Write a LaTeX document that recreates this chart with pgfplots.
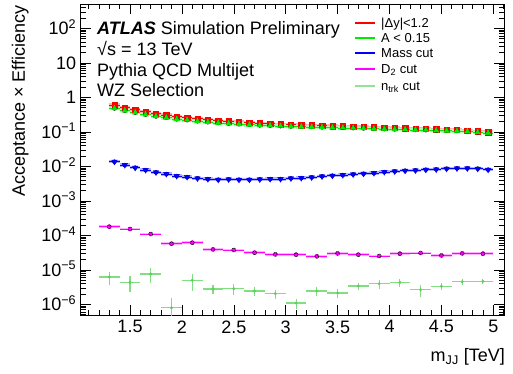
\documentclass[border=0pt]{standalone}
\usepackage{fontspec}
\setmainfont{Liberation Sans}
\usepackage{pgfplots}
\usepackage{pgfplotstable}
\pgfplotsset{compat=1.18}
\usetikzlibrary{plotmarks}

\definecolor{rootred}{RGB}{255,0,0}
\definecolor{rootgreen}{RGB}{0,235,0}
\definecolor{rootblue}{RGB}{0,0,255}
\definecolor{rootmagenta}{RGB}{255,0,255}
\definecolor{rootntrk}{RGB}{90,210,90}
\definecolor{rootntrklight}{RGB}{150,225,150}

\pgfplotstableread{
x y
1.35 0.598
1.45 0.506
1.55 0.443
1.65 0.387
1.75 0.339
1.85 0.307
1.95 0.277
2.05 0.259
2.15 0.240
2.25 0.224
2.35 0.210
2.45 0.201
2.55 0.192
2.65 0.184
2.75 0.176
2.85 0.172
2.95 0.165
3.05 0.161
3.15 0.157
3.25 0.154
3.35 0.150
3.45 0.147
3.55 0.144
3.65 0.141
3.75 0.138
3.85 0.135
3.95 0.131
4.05 0.129
4.15 0.126
4.25 0.123
4.35 0.121
4.45 0.118
4.55 0.115
4.65 0.113
4.75 0.109
4.85 0.103
4.95 0.0987
}\dytab

\pgfplotstableread{
x y
1.35 0.478
1.45 0.410
1.55 0.361
1.65 0.317
1.75 0.280
1.85 0.255
1.95 0.231
2.05 0.218
2.15 0.203
2.25 0.190
2.35 0.180
2.45 0.173
2.55 0.166
2.65 0.160
2.75 0.154
2.85 0.151
2.95 0.146
3.05 0.143
3.15 0.140
3.25 0.138
3.35 0.135
3.45 0.132
3.55 0.130
3.65 0.128
3.75 0.126
3.85 0.123
3.95 0.120
4.05 0.118
4.15 0.116
4.25 0.113
4.35 0.112
4.45 0.109
4.55 0.107
4.65 0.105
4.75 0.102
4.85 0.0963
4.95 0.0923
}\atab

\pgfplotstableread{
x y
1.35 0.01361
1.45 0.01091
1.55 0.00913
1.65 0.00781
1.75 0.00669
1.85 0.00598
1.95 0.00524
2.05 0.00490
2.15 0.00448
2.25 0.00428
2.35 0.00410
2.45 0.00419
2.55 0.00410
2.65 0.00410
2.75 0.00419
2.85 0.00428
2.95 0.00428
3.05 0.00448
3.15 0.00458
3.25 0.00479
3.35 0.00512
3.45 0.00535
3.55 0.00560
3.65 0.00585
3.75 0.00611
3.85 0.00639
3.95 0.00684
4.05 0.00715
4.15 0.00747
4.25 0.00764
4.35 0.00798
4.45 0.00816
4.55 0.00854
4.65 0.00873
4.75 0.00873
4.85 0.00854
4.95 0.00798
}\masstab

\pgfplotstableread{
x y
1.3 1.78e-4
1.5 1.52e-4
1.7 1.09e-4
1.9 5.72e-5
2.1 6.11e-5
2.3 3.92e-5
2.5 3.75e-5
2.7 3.14e-5
2.9 2.81e-5
3.1 2.75e-5
3.3 2.46e-5
3.5 3.00e-5
3.7 2.75e-5
3.9 2.51e-5
4.1 2.94e-5
4.3 3.07e-5
4.5 2.62e-5
4.7 3.00e-5
4.9 2.94e-5
}\dtwotab

\pgfplotstableread{
x y rp rm
1.3 6.18e-6 0.40 0.40
1.5 4.34e-6 0.48 0.48
1.7 7.55e-6 0.45 0.45
1.9 7.96e-7 0.95 0.95
2.1 4.97e-6 0.50 0.50
2.3 2.78e-6 0.27 0.27
2.5 2.83e-6 0.33 0.33
2.7 2.43e-6 0.30 0.30
2.9 2.03e-6 0.30 0.30
3.1 1.09e-6 0.35 0.35
3.3 2.43e-6 0.28 0.28
3.5 2.13e-6 0.28 0.28
3.7 3.39e-6 0.25 0.25
3.9 3.95e-6 0.30 0.30
4.1 4.34e-6 0.25 0.25
4.3 2.65e-6 0.40 0.40
4.5 3.33e-6 0.22 0.22
4.7 4.52e-6 0.17 0.17
4.9 4.65e-6 0.15 0.15
}\ntrktab

\begin{document}
\begin{tikzpicture}
\useasboundingbox (0,0) rectangle (513pt,374pt);
\begin{axis}[
  at={(80.7pt,59pt)}, anchor=south west,
  scale only axis, width=423.3pt, height=310.5pt,
  xmin=1.025, xmax=5.103,
  ymode=log, ymin=4.9e-7, ymax=490,
  xtick={1.5,2,2.5,3,3.5,4,4.5,5},
  xticklabels={1.5,2,2.5,3,3.5,4,4.5,5},
  minor xtick={1.1,1.2,1.3,1.4,1.6,1.7,1.8,1.9,2.1,2.2,2.3,2.4,2.6,2.7,2.8,2.9,3.1,3.2,3.3,3.4,3.6,3.7,3.8,3.9,4.1,4.2,4.3,4.4,4.6,4.7,4.8,4.9,5.1},
  ytick={1e-6,1e-5,1e-4,1e-3,1e-2,1e-1,1,10,100},
  yticklabels={10\textsuperscript{−6},10\textsuperscript{−5},10\textsuperscript{−4},10\textsuperscript{−3},10\textsuperscript{−2},10\textsuperscript{−1},1,10,10\textsuperscript{2}},
  minor ytick={5e-7,6e-7,7e-7,8e-7,9e-7,
    2e-6,3e-6,4e-6,5e-6,6e-6,7e-6,8e-6,9e-6,
    2e-5,3e-5,4e-5,5e-5,6e-5,7e-5,8e-5,9e-5,
    2e-4,3e-4,4e-4,5e-4,6e-4,7e-4,8e-4,9e-4,
    2e-3,3e-3,4e-3,5e-3,6e-3,7e-3,8e-3,9e-3,
    0.02,0.03,0.04,0.05,0.06,0.07,0.08,0.09,
    0.2,0.3,0.4,0.5,0.6,0.7,0.8,0.9,
    2,3,4,5,6,7,8,9,
    20,30,40,50,60,70,80,90,
    200,300,400},
  xtick pos=both, ytick pos=both,
  xticklabel pos=lower, yticklabel pos=left,
  tick align=inside,
  major tick length=10pt, minor tick length=5pt,
  tick style={black, line width=0.6pt},
  axis line style={line width=0.7pt},
  ticklabel style={font=\fontsize{18}{21}\selectfont},
  yticklabel style={anchor=base east, yshift=-6.4pt, xshift=-1pt},
  xticklabel style={yshift=-2pt},
  xlabel={m\textsubscript{JJ} [TeV]},
  xlabel style={at={(axis description cs:1.0024,-0.150)}, anchor=base east, font=\fontsize{18}{21}\selectfont, inner sep=0pt},
  ylabel={Acceptance × Efficiency},
  ylabel style={at={(axis description cs:-0.1316,0.998)}, anchor=base east, font=\fontsize{18}{21}\selectfont, inner sep=0pt},
  clip=true,
]
% |dy| < 1.2
\addplot[only marks, mark=none,
  error bars/.cd, x dir=both, x fixed=0.05, error mark=none,
  error bar style={line width=3.5pt, draw=rootred!30}] table {\dytab};
\addplot[only marks, mark=square*, mark size=2.7pt, color=rootred,
  error bars/.cd, x dir=both, x fixed=0.05, error mark=none,
  error bar style={line width=0.7pt, draw=rootred}] table {\dytab};
% A < 0.15
\addplot[only marks, mark=none,
  error bars/.cd, x dir=both, x fixed=0.05, error mark=none,
  error bar style={line width=3.5pt, draw=rootgreen!30}] table {\atab};
\addplot[only marks, mark=triangle*, mark size=3.2pt, color=rootgreen,
  error bars/.cd, x dir=both, x fixed=0.05, error mark=none,
  error bar style={line width=0.7pt, draw=rootgreen}] table {\atab};
% Mass cut
\addplot[only marks, mark=none,
  error bars/.cd, x dir=both, x fixed=0.05, error mark=none,
  error bar style={line width=3.5pt, draw=rootblue!30}] table {\masstab};
\addplot[only marks, mark=triangle*, mark size=3.2pt, mark options={rotate=180}, color=rootblue,
  error bars/.cd, x dir=both, x fixed=0.05, error mark=none,
  error bar style={line width=0.7pt, draw=rootblue}] table {\masstab};
% D2 cut
\addplot[only marks, mark=none,
  error bars/.cd, x dir=both, x fixed=0.1, error mark=none,
  error bar style={line width=2.5pt, draw=rootmagenta!30}] table {\dtwotab};
\addplot[only marks, mark=star, mark size=2.2pt, mark options={line width=1pt}, color=rootmagenta,
  error bars/.cd, x dir=both, x fixed=0.1, error mark=none,
  error bar style={line width=0.7pt, draw=rootmagenta}] table {\dtwotab};
% ntrk cut
\addplot[only marks, mark=*, mark size=1.3pt, color=rootntrk,
  error bars/.cd, x dir=both, x fixed=0.1, y dir=both, y explicit relative, error mark=none,
  error bar style={line width=1.1pt, draw=rootntrk!75}]
  table [x=x, y=y, y error plus=rp, y error minus=rm] {\ntrktab};
\end{axis}
% header text
\begin{scope}[every node/.style={anchor=base west, inner sep=0pt, font=\fontsize{18}{21}\selectfont}]
\node at (97pt,339pt) {\textbf{\textit{ATLAS}} Simulation Preliminary};
\node at (97pt,318pt) {√s = 13 TeV};
\node at (97pt,297.5pt) {Pythia QCD Multijet};
\node at (97pt,277pt) {WZ Selection};
\end{scope}
% legend
\begin{scope}[every node/.style={anchor=base west, inner sep=0pt, font=\fontsize{13}{15}\selectfont}]
\draw[rootred, line width=1.1pt] (355pt,351pt) -- (375pt,351pt);
\node at (381pt,346.5pt) {|Δy|<1.2};
\draw[rootgreen, line width=1.1pt] (355pt,336pt) -- (375pt,336pt);
\node at (381pt,331.5pt) {A < 0.15};
\draw[rootblue, line width=1.1pt] (355pt,321pt) -- (375pt,321pt);
\node at (381pt,316.5pt) {Mass cut};
\draw[rootmagenta, line width=1.1pt] (355pt,305pt) -- (375pt,305pt);
\node at (381pt,300.5pt) {D\textsubscript{2} cut};
\draw[rootntrklight, line width=1.1pt] (355pt,288pt) -- (375pt,288pt);
\node at (381pt,283.5pt) {n\textsubscript{trk} cut};
\end{scope}
\end{tikzpicture}
\end{document}
